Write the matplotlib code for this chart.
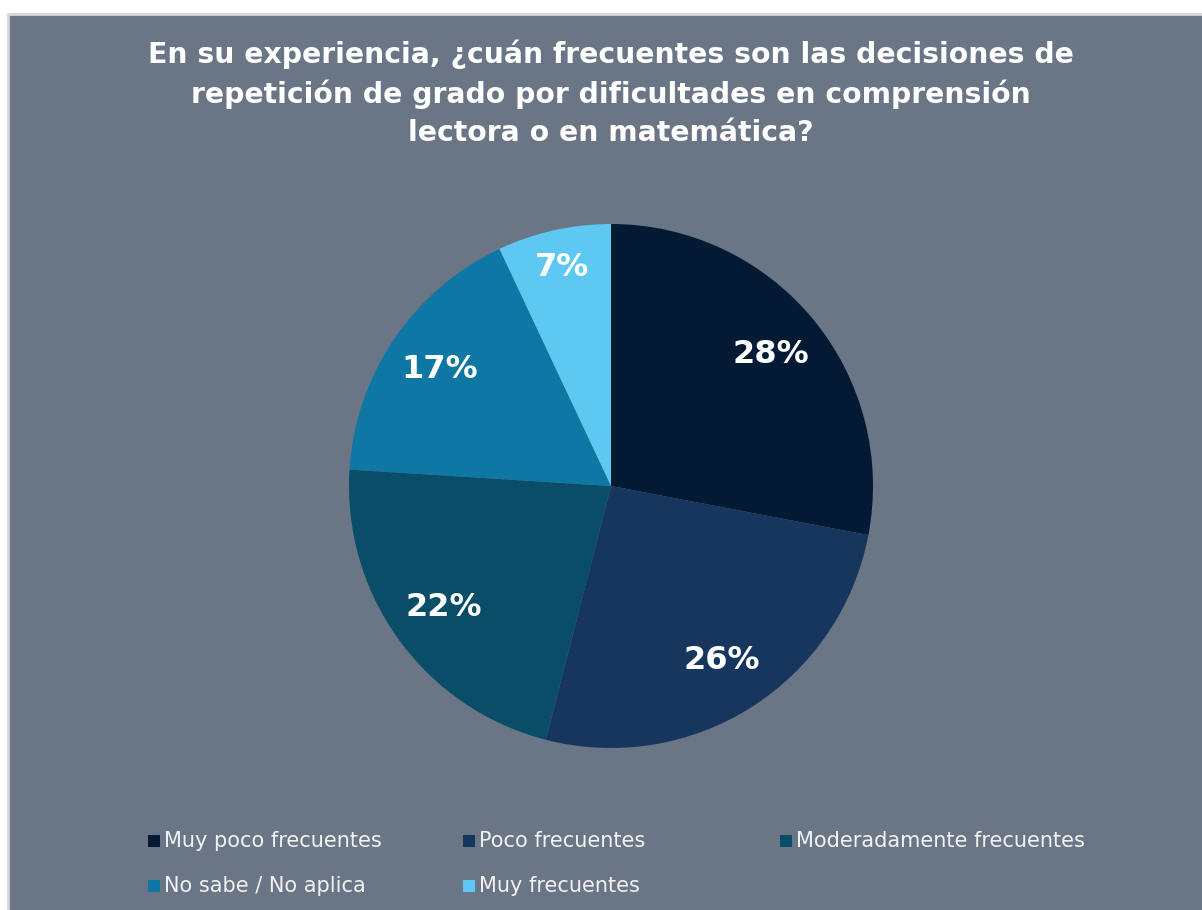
import matplotlib
matplotlib.use("Agg")
import matplotlib.pyplot as plt
from matplotlib.patches import Rectangle
import numpy as np

categories = ["Muy poco frecuentes", "Poco frecuentes", "Moderadamente frecuentes",
              "No sabe / No aplica", "Muy frecuentes"]
values = [28, 26, 22, 17, 7]
colors = ["#021A33", "#17365D", "#0A4D68", "#0E77A3", "#5DC9F2"]
title = ("En su experiencia, ¿cuán frecuentes son las decisiones de\n"
         "repetición de grado por dificultades en comprensión\n"
         "lectora o en matemática?")

W, H = 1202, 910
fig = plt.figure(figsize=(W / 100, H / 100), dpi=100, facecolor="white")

bg = "#6A7586"
fig.patches.append(Rectangle((8 / W, -0.01), 1.02 - 8 / W, 1 - 14 / H + 0.01,
                             transform=fig.transFigure, facecolor=bg,
                             edgecolor="#D6D6D6", linewidth=2, zorder=-5))

fig.text(611 / W, 1 - 93 / H, title, ha="center", va="center", color="white",
         fontsize=20.3, fontweight="bold", family="DejaVu Sans", linespacing=1.45)

cx, cy, r = 611, 486, 262
ax = fig.add_axes([(cx - r) / W, (H - cy - r) / H, 2 * r / W, 2 * r / H], zorder=1)
ax.set_facecolor("none")
wedges, texts, autotexts = ax.pie(values, colors=colors, startangle=90, counterclock=False,
                                  autopct=lambda p: f"{p:.0f}%", pctdistance=0.79,
                                  wedgeprops=dict(linewidth=0),
                                  textprops=dict(color="white", fontsize=23,
                                                 fontweight="bold"))
# push label of the narrow slice further out (as in the original)
for w, t, v in zip(wedges, autotexts, values):
    if v < 10:
        ang = np.deg2rad((w.theta1 + w.theta2) / 2)
        t.set_position((0.855 * np.cos(ang), 0.855 * np.sin(ang)))
ax.set_xlim(-1, 1)
ax.set_ylim(-1, 1)
ax.axis("off")

# legend, row-major, three columns
col_x = [148, 463, 780]
row_y = [841, 886]
for i, (lab, c) in enumerate(zip(categories, colors)):
    row, col = divmod(i, 3)
    x, y = col_x[col], row_y[row]
    fig.patches.append(Rectangle((x / W, (H - y - 6) / H), 12 / W, 12 / H,
                                 transform=fig.transFigure, facecolor=c,
                                 edgecolor="none", zorder=2))
    fig.text((x + 16) / W, (H - y) / H, lab, ha="left", va="center",
             color="#F2F2F2", fontsize=15, family="DejaVu Sans")

fig.savefig("out.png", dpi=100, facecolor="white")
